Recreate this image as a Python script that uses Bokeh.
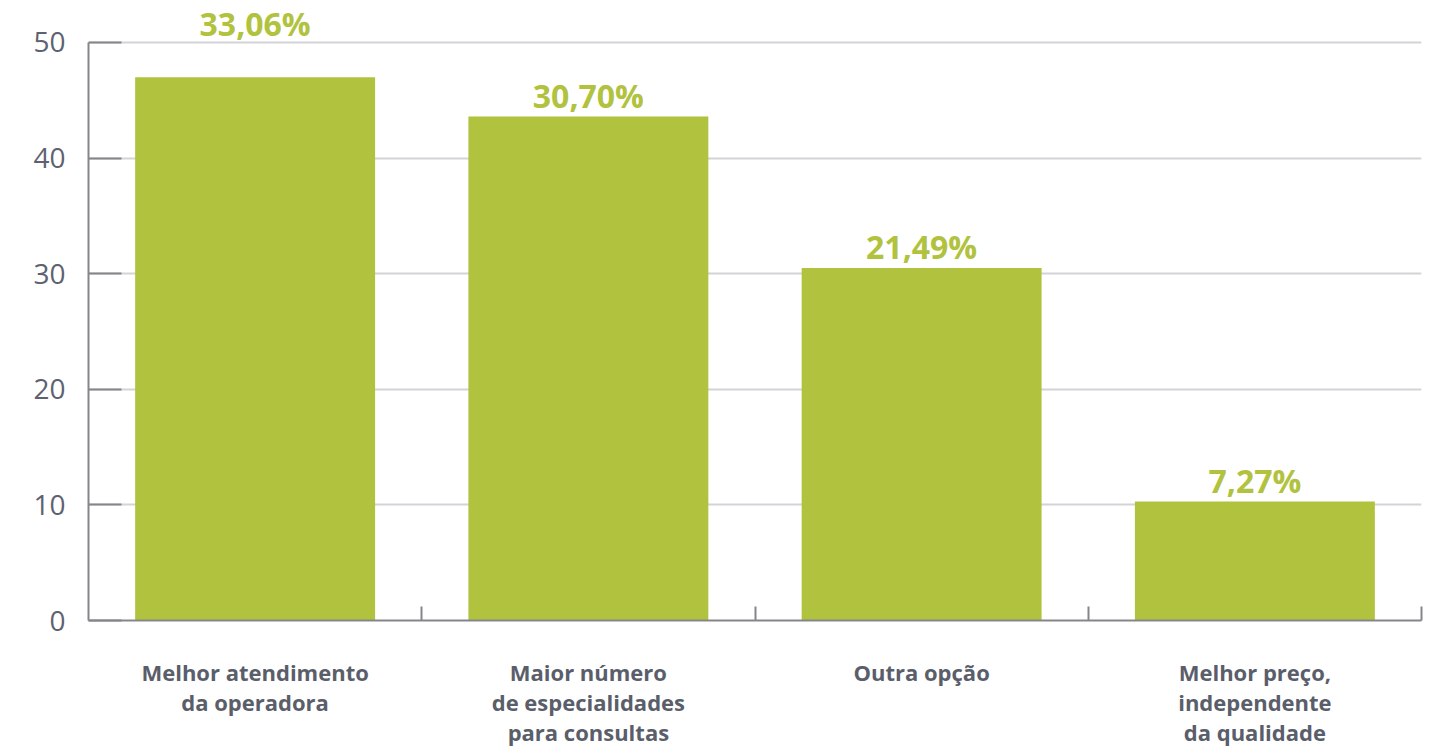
from bokeh.plotting import figure
from bokeh.models import Range1d, FixedTicker, ColumnDataSource
from bokeh.embed import file_html
from bokeh.resources import INLINE
from bokeh.core.properties import value

# ---- data ----
categories = [
    "Melhor atendimento\nda operadora",
    "Maior número\nde especialidades\npara consultas",
    "Outra opção",
    "Melhor preço,\nindependente\nda qualidade",
]
bar_values = [47.0, 43.6, 30.5, 10.3]
pct_labels = ["33,06%", "30,70%", "21,49%", "7,27%"]
y_ticks = [0, 10, 20, 30, 40, 50]

# ---- styling ----
GREEN = "#b1c23e"
AXIS = "#85868a"
GRID = "#d3d3d8"

n = len(categories)
centers = [i + 0.5 for i in range(n)]
bounds = [i + 1 for i in range(n)]

p = figure(width=1425, height=749, output_backend="svg", toolbar_location=None,
           x_range=Range1d(0, n), y_range=Range1d(0, 53.63),
           min_border_left=88, min_border_right=4, min_border_top=0,
           min_border_bottom=128)
p.outline_line_color = None
p.background_fill_color = "white"

label_offsets = [-54, -21, -21, -21]
src = ColumnDataSource(dict(x=centers, top=bar_values, lab=pct_labels,
                            yoff=label_offsets))
p.vbar(x="x", top="top", bottom=0, width=0.72, source=src,
       fill_color=GREEN, line_color=None)
p.text(x="x", y="top", text="lab", source=src, y_offset="yoff",
       text_align="center", text_baseline="alphabetic",
       text_font=value("Open Sans"), text_font_style="bold",
       text_font_size="32px", text_color=GREEN)

# x axis
xa = p.xaxis[0]
xa.ticker = FixedTicker(ticks=centers, minor_ticks=bounds)
xa.major_label_overrides = {c: lab for c, lab in zip(centers, categories)}
xa.major_tick_line_color = None
xa.major_tick_in = 0
xa.major_tick_out = 0
xa.minor_tick_in = 14
xa.minor_tick_out = 0
xa.minor_tick_line_color = AXIS
xa.minor_tick_line_width = 2
xa.axis_line_color = AXIS
xa.axis_line_width = 2
xa.major_label_text_font = "Open Sans"
xa.major_label_text_font_style = "bold"
xa.major_label_text_font_size = "22px"
xa.major_label_text_line_height = 1.0
xa.major_label_text_color = "#5a5e6a"
xa.major_label_standoff = 36
p.xgrid.grid_line_color = None

# y axis
ya = p.yaxis[0]
ya.ticker = FixedTicker(ticks=y_ticks)
ya.bounds = (0, 50)
ya.major_tick_in = 33
ya.major_tick_out = 0
ya.major_tick_line_color = AXIS
ya.major_tick_line_width = 2
ya.minor_tick_line_color = None
ya.axis_line_color = AXIS
ya.axis_line_width = 2
ya.major_label_text_font = "Open Sans"
ya.major_label_text_font_size = "28px"
ya.major_label_text_color = "#5e6270"
ya.major_label_standoff = 23
p.ygrid.grid_line_color = GRID
p.ygrid.grid_line_width = 2
p.ygrid.ticker = FixedTicker(ticks=y_ticks[1:])

open("out.html", "w").write(file_html(p, INLINE))
